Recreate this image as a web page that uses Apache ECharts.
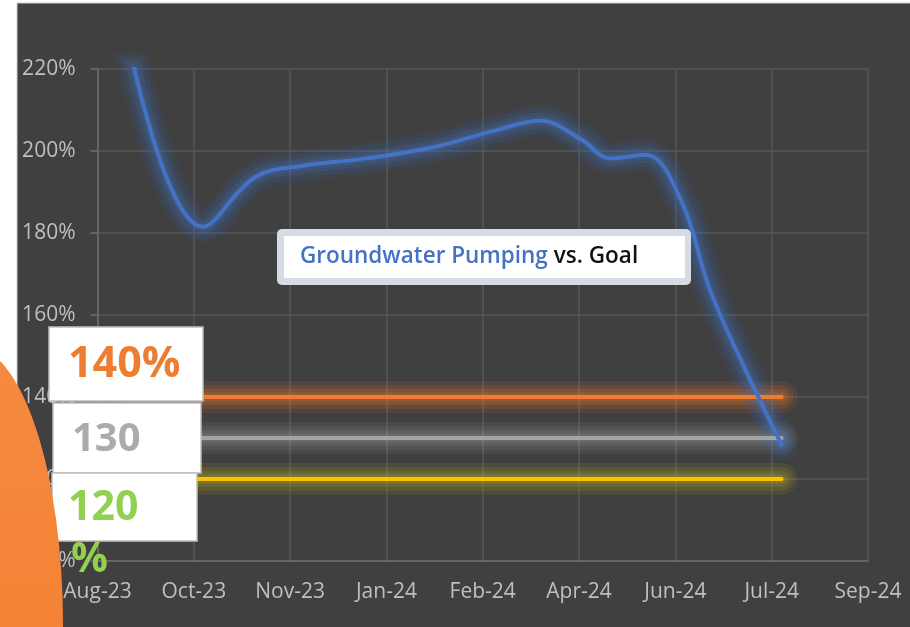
<!DOCTYPE html>
<html><head><meta charset="utf-8">
<script src="https://cdn.jsdelivr.net/npm/echarts@6/dist/echarts.min.js"></script>
<style>html,body{margin:0;padding:0;background:#fff}#c{width:910px;height:627px}</style>
</head><body><div id="c"></div>
<script>
// ---- data ----
const xTickLabels = ['Aug-23','Oct-23','Nov-23','Jan-24','Feb-24','Apr-24','Jun-24','Jul-24','Sep-24'];
const yTicks = { min: 100, max: 220, interval: 20 };
// positions in x-axis tick units (0 = Aug-23, 1 = Oct-23, ...)
const pumpX = [0.317, 1.096, 1.636, 2.103, 2.795, 3.484, 4.145, 4.595, 5.010, 5.332, 5.685, 6.049, 6.361, 6.724, 7.103];
const pumpValues = [227, 181.5, 193.6, 196.3, 198.2, 200.9, 205.1, 207.4, 203.0, 198.2, 199.1, 188.5, 166.0, 146.8, 128.4];
const goalValues = [140, 130, 120];
const goalNames = ['Goal 140%', 'Goal 130%', 'Goal 120%'];
const goalColors = ['#ED7D31', '#A5A5A5', '#FFC000'];
const goalGlowRGB = ['237,125,49', '200,200,200', '190,180,40'];
const pumpColor = '#4472C4';
const pumpGlowRGB = '68,114,196';
const badgeTexts = ['140%', '130', '120', '%'];
const titleParts = ['Groundwater Pumping', 'vs. Goal'];

const chart = echarts.init(document.getElementById('c'), null, { renderer: 'canvas' });
const xStart = pumpX[0], xEnd = pumpX[pumpX.length - 1];
const FONT = '"Open Sans", "Noto Sans", sans-serif';
const pumpData = pumpX.map((x, i) => [x, pumpValues[i]]);

// layered soft glow (wide faint strokes under the main stroke)
const glowLayers = [ { w: 32, a: 0.08 }, { w: 24, a: 0.10 }, { w: 16, a: 0.12 }, { w: 9, a: 0.15 } ];
function glowSeries(name, data, rgb, smooth, strength) {
  return glowLayers.map((g, j) => ({
    name: name + ' glow ' + j, type: 'line', symbol: 'none', smooth: smooth, z: 2, silent: true, data: data,
    lineStyle: { color: 'rgba(' + rgb + ',' + (g.a * strength) + ')', width: g.w, cap: 'round',
      shadowBlur: 8, shadowColor: 'rgba(' + rgb + ',' + (g.a * strength) + ')' }
  }));
}

const series = [];
goalValues.forEach((v, k) => {
  const d = [[xStart, v], [xEnd, v]];
  series.push(...glowSeries(goalNames[k], d, goalGlowRGB[k], false, k === 1 ? 0.8 : 1.25));
  series.push({
    name: goalNames[k], type: 'line', symbol: 'none', z: 3, data: d,
    lineStyle: { color: goalColors[k], width: 4, cap: 'round' }
  });
});
series.push(...glowSeries('Groundwater Pumping', pumpData, pumpGlowRGB, 0.4, 1.2));
series.push({
  name: 'Groundwater Pumping', type: 'line', symbol: 'none', smooth: 0.4, z: 4, data: pumpData,
  lineStyle: { color: pumpColor, width: 4, cap: 'round' }
});

const option = {
  backgroundColor: '#404040',
  animation: false,
  grid: { left: 97.5, right: 42, top: 69, bottom: 66 },
  xAxis: {
    type: 'value', min: 0, max: xTickLabels.length - 1, interval: 1,
    axisLine: { show: true, lineStyle: { color: '#6E6E6E', width: 1.5 } },
    axisTick: { show: false },
    splitLine: { show: true, lineStyle: { color: '#575757', width: 1.5 } },
    axisLabel: { color: '#BFBFBF', fontFamily: FONT, fontSize: 21, margin: 21,
      formatter: v => xTickLabels[Math.round(v)] || '' }
  },
  yAxis: {
    type: 'value', min: yTicks.min, max: yTicks.max, interval: yTicks.interval,
    axisLine: { show: true, lineStyle: { color: '#6E6E6E', width: 1.5 } },
    axisTick: { show: true, length: 7, lineStyle: { color: '#6E6E6E', width: 1.5 } },
    splitLine: { show: true, lineStyle: { color: '#575757', width: 1.5 } },
    axisLabel: { color: '#BFBFBF', fontFamily: FONT, fontSize: 21, margin: 22, formatter: v => v + '%' }
  },
  series: series,
  graphic: [
    // white page margins
    { type: 'rect', z: 1, shape: { x: 0, y: 0, width: 17, height: 627 }, style: { fill: '#FFFFFF' } },
    { type: 'rect', z: 1, shape: { x: 0, y: 0, width: 910, height: 3 }, style: { fill: '#FFFFFF' } },
    { type: 'line', z: 1, shape: { x1: 17, y1: 3, x2: 17, y2: 627 }, style: { stroke: '#D0D0D0', lineWidth: 1 } },
    { type: 'line', z: 1, shape: { x1: 17, y1: 3, x2: 910, y2: 3 }, style: { stroke: '#D0D0D0', lineWidth: 1 } },
    // title box
    { type: 'rect', z: 10, shape: { x: 277, y: 229, width: 414, height: 56, r: 5 }, style: { fill: '#D6DCE5' } },
    { type: 'rect', z: 11, shape: { x: 284, y: 236, width: 401, height: 42 }, style: { fill: '#FFFFFF' } },
    { type: 'text', z: 12, x: 300, y: 257, style: {
        text: '{a|' + titleParts[0] + '}{s| }{b|' + titleParts[1] + '}',
        textVerticalAlign: 'middle',
        rich: {
          a: { fill: '#4472C4', color: '#4472C4', fontFamily: FONT, fontSize: 22.5, fontWeight: 600 },
          s: { fontFamily: FONT, fontSize: 22.5, width: 6 },
          b: { fill: '#111111', color: '#111111', fontFamily: FONT, fontSize: 22.5, fontWeight: 600 }
        } } },
    // badges
    { type: 'rect', z: 20, shape: { x: 49, y: 327, width: 154, height: 74 }, style: { fill: '#FFFFFF', stroke: '#BFBFBF', lineWidth: 1.5 } },
    { type: 'rect', z: 20, shape: { x: 53, y: 403, width: 148, height: 70 }, style: { fill: '#FFFFFF', stroke: '#BFBFBF', lineWidth: 1.5 } },
    { type: 'rect', z: 20, shape: { x: 52, y: 473, width: 145, height: 68 }, style: { fill: '#FFFFFF', stroke: '#BFBFBF', lineWidth: 1.5 } },
    { type: 'text', z: 21, x: 68, y: 365, style: { text: badgeTexts[0], fill: '#ED7D31', font: 'bold 43px ' + FONT, textVerticalAlign: 'middle' } },
    { type: 'text', z: 21, x: 72, y: 440, style: { text: badgeTexts[1], fill: '#AEAAAA', font: 'bold 40px ' + FONT, textVerticalAlign: 'middle' } },
    { type: 'text', z: 21, x: 68, y: 508, style: { text: badgeTexts[2], fill: '#92D050', font: 'bold 41px ' + FONT, textVerticalAlign: 'middle' } },
    // orange shape
    { type: 'circle', z: 30, x: -30, y: 625, scaleX: 1, scaleY: 3.0, shape: { cx: 0, cy: 0, r: 93 },
      style: { fill: new echarts.graphic.LinearGradient(0, 0, 0, 1, [{ offset: 0, color: '#F58B40' }, { offset: 1, color: '#F37A2A' }]) } },
    { type: 'text', z: 40, x: 71, y: 560, style: { text: badgeTexts[3], fill: '#92D050', font: 'bold 41px ' + FONT, textVerticalAlign: 'middle' } }
  ]
};
chart.setOption(option);
</script>
</body></html>
